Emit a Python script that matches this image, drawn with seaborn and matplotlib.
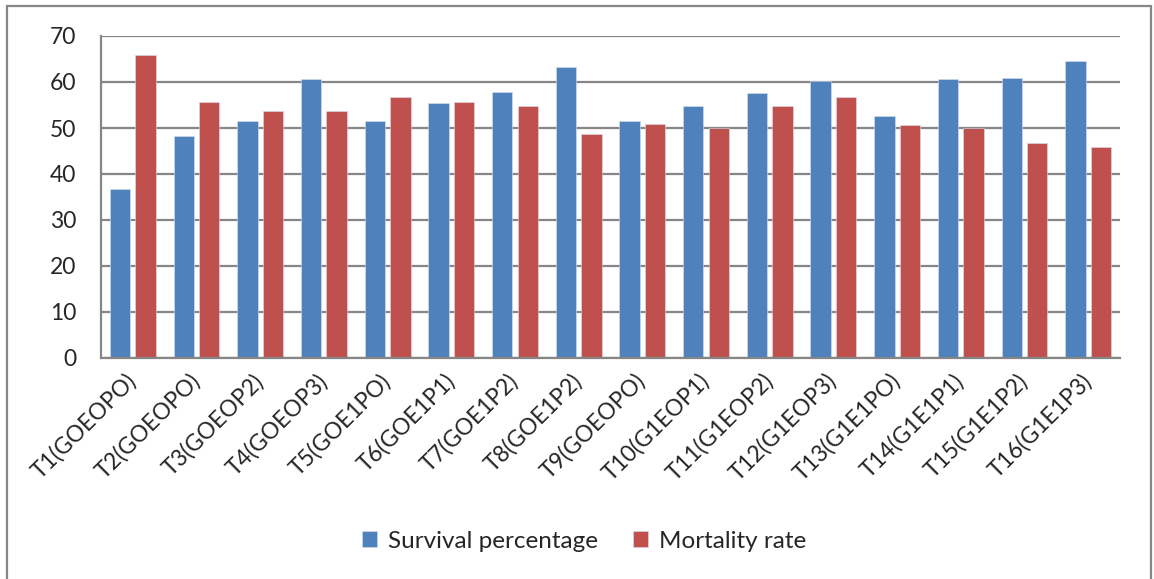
import pandas as pd
import matplotlib.pyplot as plt
import seaborn as sns
from matplotlib.patches import Rectangle

# Treatment labels and values
treatments = ["T1(GOEOPO)", "T2(GOEOPO)", "T3(GOEOP2)", "T4(GOEOP3)",
              "T5(GOE1PO)", "T6(GOE1P1)", "T7(GOE1P2)", "T8(GOE1P2)",
              "T9(GOEOPO)", "T10(G1EOP1)", "T11(G1EOP2)", "T12(G1EOP3)",
              "T13(G1E1PO)", "T14(G1E1P1)", "T15(G1E1P2)", "T16(G1E1P3)"]
survival = [36.7, 48.3, 51.6, 60.6, 51.6, 55.4, 57.9, 63.2,
            51.6, 54.8, 57.6, 60.3, 52.7, 60.6, 60.9, 64.5]
mortality = [65.9, 55.7, 53.8, 53.8, 56.7, 55.7, 54.7, 48.8,
             50.8, 49.9, 54.8, 56.7, 50.7, 50.0, 46.8, 45.9]
series = ["Survival percentage", "Mortality rate"]
colors = ["#4F81BD", "#C0504D"]

df = pd.DataFrame({
    "Treatment": treatments * 2,
    "Series": [series[0]] * len(treatments) + [series[1]] * len(treatments),
    "Value": survival + mortality,
})

sns.set_style("white")
plt.rcParams['font.family'] = ['Lato', 'DejaVu Sans']

fig = plt.figure(figsize=(11.54, 5.79), dpi=100)
ax = fig.add_axes([101 / 1154, 1 - 358 / 579, (1120 - 101) / 1154, (358 - 36) / 579])

sns.barplot(data=df, x="Treatment", y="Value", hue="Series",
            palette=colors, saturation=1, width=0.8, gap=0.2, ax=ax,
            edgecolor="#d8e0ee", linewidth=0.4)

ax.set_ylim(0, 70)
ax.set_yticks(range(0, 71, 10))
ax.set_xlim(-0.5, len(treatments) - 0.5)
ax.yaxis.grid(True, color="#868686", linewidth=1.6)
ax.set_axisbelow(True)
ax.set_xlabel("")
ax.set_ylabel("")

for side in ["top", "right"]:
    ax.spines[side].set_visible(False)
for side in ["left", "bottom"]:
    ax.spines[side].set_color("#868686")
    ax.spines[side].set_linewidth(1.6)

ax.tick_params(axis="y", length=0, pad=18, labelsize=16.5)
ax.tick_params(axis="x", length=0, pad=14, labelsize=16.5)
for lbl in ax.get_xticklabels():
    lbl.set_rotation(45)
    lbl.set_ha("right")
    lbl.set_va("center")
    lbl.set_rotation_mode("anchor")

handles, labels = ax.get_legend_handles_labels()
ax.get_legend().remove()
fig.legend(handles, labels, loc="center", bbox_to_anchor=(584 / 1154, 1 - 541 / 579),
           ncol=2, frameon=False, fontsize=17.5, handlelength=0.6, handleheight=0.6,
           handletextpad=0.45, columnspacing=1.45)

# outer chart frame
fig.patches.append(Rectangle((7 / 1154, -0.05), (1151 - 7) / 1154, 1.05 - 6 / 579,
                             transform=fig.transFigure, fill=False,
                             edgecolor="#868686", linewidth=1.6))

plt.savefig("out.png", dpi=100)
